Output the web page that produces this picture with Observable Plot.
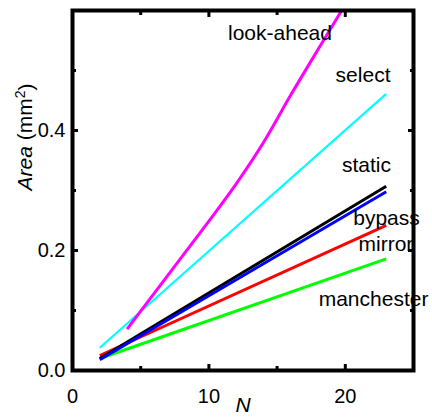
<!DOCTYPE html>
<html>
<head>
<meta charset="utf-8">
<script src="https://cdn.jsdelivr.net/npm/d3@7"></script>
<script src="https://cdn.jsdelivr.net/npm/@observablehq/plot@0.6"></script>
<style>
  html, body { margin: 0; padding: 0; background: #fff; }
  svg { display: block; }
</style>
</head>
<body>
<div id="chart"></div>
<script>
// --- data ---
const seriesNames = ["manchester", "mirror", "static", "bypass", "select", "look-ahead"];
const seriesColors = ["#00ff00", "#ff0000", "#000000", "#0000ff", "#00ffff", "#ff00ff"];

const nManchester = [2, 23];
const manchester = [0.020, 0.186];
const nMirror = [2, 23];
const mirror = [0.025, 0.242];
const nStatic = [2, 23];
const staticArea = [0.020, 0.307];
const nBypass = [2, 23];
const bypass = [0.018, 0.298];
const nSelect = [2, 23];
const select = [0.038, 0.461];
const nLookAhead = [4, 6, 8, 10, 12, 14, 16, 18, 20, 22];
const lookAhead = [0.069, 0.129, 0.189, 0.249, 0.311, 0.380, 0.459, 0.535, 0.610, 0.685];

// label positions (data coords)
const labelX = [22.07, 22.98, 21.55, 23.02, 21.3, 15.21];
const labelY = [0.118, 0.210, 0.342, 0.253, 0.492, 0.562];

const xMajor = [0, 10, 20];
const xMinor = [5, 15];
const yMajor = [0, 0.2, 0.4];
const yMinor = [0.1, 0.3, 0.5];

const seriesN = [nManchester, nMirror, nStatic, nBypass, nSelect, nLookAhead];
const seriesV = [manchester, mirror, staticArea, bypass, select, lookAhead];

const rows = [];
seriesNames.forEach((name, i) => {
  seriesN[i].forEach((n, j) => rows.push({series: name, N: n, area: seriesV[i][j]}));
});
const labels = seriesNames.map((name, i) => ({series: name, x: labelX[i], y: labelY[i]}));

const tickStyle = {stroke: "black", strokeWidth: 3, tickFormat: () => "", label: null};
const labelStyle = {tickSize: 0, fontSize: 20, label: null};

const lineMarks = seriesNames.map((name, i) =>
  Plot.line(rows.filter(d => d.series === name), {
    x: "N", y: "area", stroke: seriesColors[i], strokeWidth: name === "select" ? 2.2 : 3,
    strokeLinecap: "butt", curve: name === "look-ahead" ? "monotone-x" : "linear", clip: true
  })
);

const chart = Plot.plot({
  width: 432,
  height: 419,
  marginLeft: 72,
  marginRight: 19,
  marginTop: 10,
  marginBottom: 49,
  style: {fontFamily: "'Liberation Sans', Arial, sans-serif", color: "black", background: "white"},
  x: {domain: [0, 25]},
  y: {domain: [0, 0.6]},
  marks: [
    ...lineMarks,
    Plot.text(labels, {x: "x", y: "y", text: "series", fontSize: 21, fill: "black", textAnchor: "middle"}),
    // inward ticks on all four sides
    Plot.axisX(xMajor, {anchor: "bottom", tickSize: -6, ...tickStyle}),
    Plot.axisX(xMinor, {anchor: "bottom", tickSize: -4, ...tickStyle}),
    Plot.axisX(xMajor, {anchor: "top", tickSize: -6, ...tickStyle}),
    Plot.axisX(xMinor, {anchor: "top", tickSize: -4, ...tickStyle}),
    Plot.axisY(yMajor, {anchor: "left", tickSize: -6, ...tickStyle}),
    Plot.axisY(yMinor, {anchor: "left", tickSize: -4, ...tickStyle}),
    Plot.axisY(yMajor, {anchor: "right", tickSize: -6, ...tickStyle}),
    Plot.axisY(yMinor, {anchor: "right", tickSize: -4, ...tickStyle}),
    // tick labels
    Plot.axisX(xMajor, {anchor: "bottom", tickPadding: 18, ...labelStyle, tickFormat: d3.format("d")}),
    Plot.axisY(yMajor, {anchor: "left", tickPadding: 7, ...labelStyle, tickFormat: d3.format(".1f")}),
    Plot.frame({stroke: "black", strokeWidth: 4}),
    // axis titles
    Plot.text(["N"], {frameAnchor: "bottom", dy: 41, fontSize: 21, fontStyle: "italic", fill: "black", className: "xtitle"}),
    Plot.text(["Area (mm²)"], {frameAnchor: "left", dx: -47, rotate: -90, fontSize: 21, fill: "black", className: "ytitle"})
  ]
});

document.getElementById("chart").appendChild(chart);

// italicise "Area" and render the superscript as a tspan
const yt = d3.select(chart).select(".ytitle text");
if (!yt.empty()) {
  yt.text(null);
  yt.append("tspan").attr("font-style", "italic").text("Area");
  yt.append("tspan").text(" (mm");
  yt.append("tspan").attr("font-size", 14).attr("dy", "-0.5em").text("2");
  yt.append("tspan").attr("dy", "0.35em").text(")");
}
</script>
</body>
</html>
